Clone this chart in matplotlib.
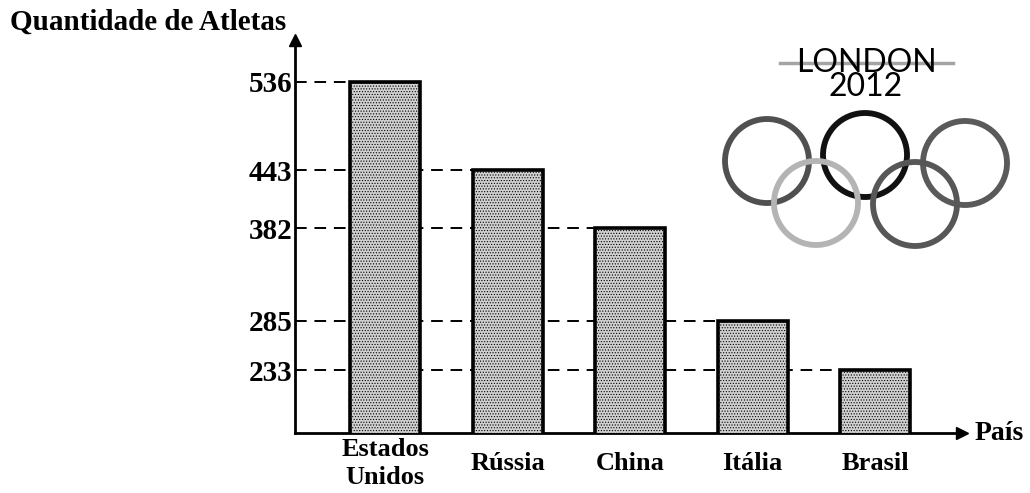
import matplotlib
matplotlib.use("Agg")
import matplotlib.pyplot as plt
from matplotlib.patches import Circle
import numpy as np

# Athletes sent to London 2012 by country
countries = ["Estados\nUnidos", "Rússia", "China", "Itália", "Brasil"]
athletes = [536, 443, 382, 285, 233]

plt.rcParams["hatch.color"] = "#4a4a4a"
plt.rcParams["hatch.linewidth"] = 0.5
serif = ["Liberation Serif", "DejaVu Serif"]

fig = plt.figure(figsize=(10.30, 4.93), dpi=100)
ax = fig.add_axes([0.2864, 0.1217, 0.6476, 0.797])

x = np.arange(len(countries))
bar_w = 0.571
ax.set_xlim(-0.735, 4.71)
ax.set_ylim(167, 580)

ax.bar(x, athletes, width=bar_w, facecolor="#d0d0d0", edgecolor="black",
       linewidth=2.6, hatch="......", zorder=3)

# dashed guide from the axis to each bar
x0 = ax.get_xlim()[0]
for xi, v in zip(x, athletes):
    ax.plot([x0, xi - bar_w / 2], [v, v], color="black", lw=1.4,
            dashes=(6, 4), zorder=2)

ax.set_yticks(athletes)
ax.set_yticklabels([str(v) for v in athletes], fontfamily=serif,
                   fontweight="bold", fontsize=21)
ax.tick_params(axis="y", length=0, pad=2)

ax.set_xticks(x)
ax.set_xticklabels(countries, fontfamily=serif, fontweight="bold",
                   fontsize=19, va="center", linespacing=1.3)
ax.tick_params(axis="x", length=0, pad=22)

for side in ("top", "right"):
    ax.spines[side].set_visible(False)
for side in ("left", "bottom"):
    ax.spines[side].set_linewidth(2)

# arrow heads on the axes
ax.plot([0], [1], marker="^", ms=8, color="black", transform=ax.transAxes,
        clip_on=False, zorder=5)
ax.plot([1], [0], marker=">", ms=8, color="black", transform=ax.transAxes,
        clip_on=False, zorder=5)

fig.text(10 / 1030, 1 - 22 / 493, "Quantidade de Atletas", fontfamily=serif,
         fontweight="bold", fontsize=21, ha="left", va="center")
fig.text(975 / 1030, 60 / 493, "País", fontfamily=serif, fontweight="bold",
         fontsize=20, ha="left", va="center")

# London 2012 logo
logo = fig.add_axes([700 / 1030, (493 - 255) / 493, 330 / 1030, 215 / 493])
logo.set_xlim(700, 1030)
logo.set_ylim(255, 40)
logo.axis("off")

rings = [((767, 161), "#505050"), ((865, 155), "#111111"),
         ((965, 163), "#5a5a5a"), ((816, 203), "#b4b4b4"),
         ((915, 204), "#575757")]
for (cx, cy), col in rings:
    logo.add_patch(Circle((cx, cy), 42, fill=False, edgecolor=col, lw=4.2))

logo.plot([780, 953], [63, 63], color="#9a9a9a", lw=2.5, alpha=0.9, zorder=1)
logo.text(866, 75, "LONDON\n2012", fontfamily=["Lato", "DejaVu Sans"],
          fontsize=23, ha="center", va="center", color="black",
          linespacing=0.78, zorder=2)

fig.savefig("out.png", dpi=100)
